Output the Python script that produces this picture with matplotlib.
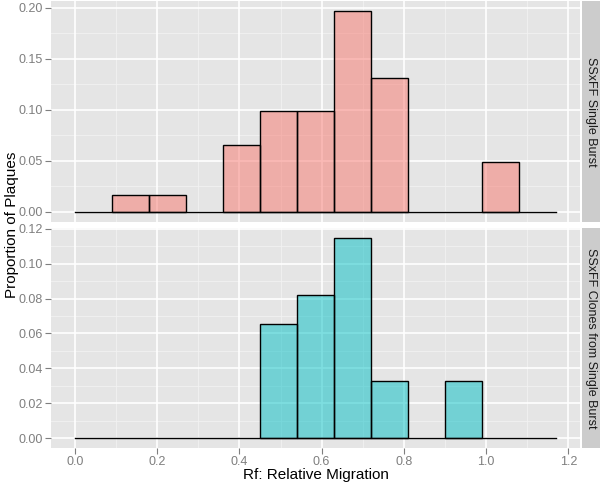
import matplotlib
matplotlib.use("Agg")
import matplotlib.pyplot as plt
import numpy as np

plt.rcParams['font.family'] = ['Liberation Sans', 'DejaVu Sans']

# Datos: bordes de los bins y proporciones de placas (conteos / 61)
bordes = [0.0, 0.09, 0.18, 0.27, 0.36, 0.45, 0.54, 0.63, 0.72, 0.81, 0.90, 0.99, 1.08, 1.17]
prop_single = [0, 1/61, 1/61, 0, 4/61, 6/61, 6/61, 12/61, 8/61, 0, 0, 3/61, 0]
prop_clones = [0, 0, 0, 0, 0, 4/61, 5/61, 7/61, 2/61, 0, 2/61, 0, 0]

paneles = ["SSxFF Single Burst", "SSxFF Clones from Single Burst"]
colores = ["#F8766D", "#00BFC4"]
yticks_top = [0.00, 0.05, 0.10, 0.15, 0.20]
yticks_bot = [0.00, 0.02, 0.04, 0.06, 0.08, 0.10, 0.12]
xticks = [0.0, 0.2, 0.4, 0.6, 0.8, 1.0, 1.2]

fig = plt.figure(figsize=(6, 4.86), dpi=100)

W, H = 600, 486
left, right = 51, 580
cajas = [(1, 222), (228, 448)]

izq = np.array(bordes[:-1])
ancho = np.diff(bordes)
xmin, xmax = -0.0585, 1.2285

for i, (valores, nombre, color, yt) in enumerate(zip([prop_single, prop_clones], paneles, colores, [yticks_top, yticks_bot])):
    top, bot = cajas[i]
    ax = fig.add_axes([left / W, (H - bot) / H, (right - left) / W, (bot - top) / H])
    ax.set_facecolor("#E5E5E5")
    for s in ax.spines.values():
        s.set_visible(False)

    ymax_dato = max(valores)
    pad = 0.05 * ymax_dato
    ax.set_xlim(xmin, xmax)
    ax.set_ylim(-pad, ymax_dato + pad)

    # rejilla menor y mayor
    paso = yt[1] - yt[0]
    for y in np.arange(paso / 2, ymax_dato + pad, paso):
        ax.axhline(y, color="#F2F2F2", lw=0.6, zorder=0)
    for x in np.arange(0.1, 1.25, 0.2):
        ax.axvline(x, color="#F2F2F2", lw=0.6, zorder=0)
    for y in yt:
        ax.axhline(y, color="white", lw=1.2, zorder=0.5)
    for x in xticks:
        ax.axvline(x, color="white", lw=1.2, zorder=0.5)

    valores = np.array(valores)
    lleno = valores > 0
    ax.bar(izq, valores, width=ancho, align="edge", color=color, alpha=0.5,
           edgecolor="none", zorder=2)
    ax.bar(izq[lleno], valores[lleno], width=ancho[lleno], align="edge",
           facecolor="none", edgecolor="black", lw=1.0, zorder=3)
    ax.plot([bordes[0], bordes[-1]], [0, 0], color="black", lw=1.0, zorder=3)

    ax.set_yticks(yt)
    ax.set_yticklabels([f"{v:.2f}" for v in yt])
    ax.set_xticks(xticks)
    ax.tick_params(axis="both", colors="#7F7F7F", labelcolor="#7F7F7F",
                   labelsize=9, length=4, width=0.8, direction="out", pad=2)
    if i == 0:
        ax.tick_params(axis="x", length=0, labelbottom=False)
    else:
        ax.set_xticklabels([f"{v:.1f}" for v in xticks])
        ax.set_xlabel("Rf: Relative Migration", fontsize=11, labelpad=0)

    # tira lateral
    sx = fig.add_axes([582 / W, (H - bot) / H, 18 / W, (bot - top) / H])
    sx.set_facecolor("#CCCCCC")
    sx.set_xticks([])
    sx.set_yticks([])
    for s in sx.spines.values():
        s.set_visible(False)
    sx.text(0.5, 0.5, nombre, rotation=-90, ha="center", va="center",
            fontsize=9, color="#1A1A1A", transform=sx.transAxes)

fig.text(0.02, (H - 225) / H, "Proportion of Plaques", rotation=90,
         ha="center", va="center", fontsize=11)

plt.savefig("out.png", dpi=100)
